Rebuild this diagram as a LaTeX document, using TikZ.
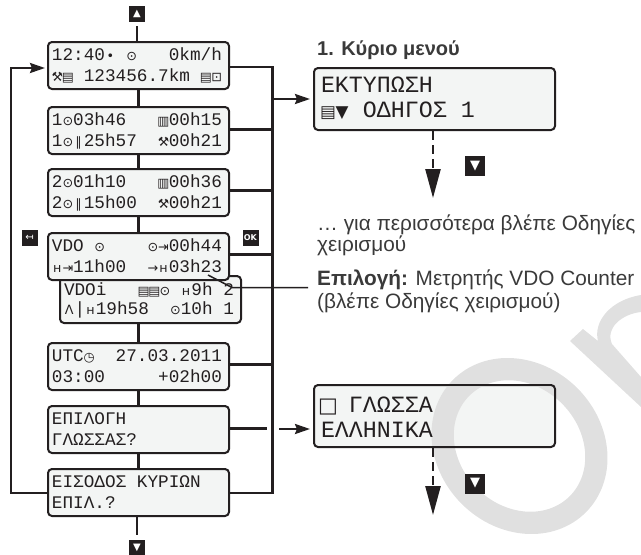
\documentclass[tikz,border=0pt]{standalone}
\usepackage{fontspec}
\usepackage{xcolor}
\usetikzlibrary{arrows.meta,calc}
\setmainfont{Liberation Sans}
\newfontfamily\lcdfont{Liberation Mono}
\newfontfamily\lcdsymfont[Scale=0.72]{DejaVu Sans}
\newfontfamily\btnfont{DejaVu Sans}
\definecolor{lcdink}{HTML}{231F20}
\definecolor{lcdback}{HTML}{F3F5F4}
\definecolor{bodyink}{HTML}{3A3A3A}
\definecolor{markgray}{HTML}{E0E0E0}

\renewcommand{~}{\hspace*{0.6em}}
\newcommand{\lcdsym}[1]{\makebox[0.6em]{\lcdsymfont #1}}
\newcommand{\wheel}{\lcdsym{⊙}}
\newcommand{\cardsym}{\lcdsym{▤}}
\newcommand{\bedsym}{\lcdsym{н}}
\newcommand{\workdsym}{\lcdsym{⚒}}
\newcommand{\standby}{\lcdsym{▥}}
\newcommand{\splitbar}{\lcdsym{∥}}
\newcommand{\breaksym}{\lcdsym{⇥}}

\begin{document}
\begin{tikzpicture}[x=1pt,y=-1pt]
    \tikzstyle{lcd} = [
      rectangle,
      draw=lcdink,
      fill=lcdback,
      line width=2pt,
      rounded corners=4pt,
      anchor=north,
      align=left,
      text=lcdink,
      text width=173pt,
      text height=16pt,
      text depth=27pt,
      minimum height=47pt,
      inner xsep=4pt,
      inner ysep=2pt,
      font=\lcdfont\fontsize{17.7}{21}\selectfont,
    ]
    \tikzstyle{lcdbig} = [
      lcd,
      text width=227pt,
      text height=22pt,
      text depth=36pt,
      minimum height=62pt,
      inner xsep=7pt,
      font=\lcdfont\fontsize{23.3}{25.5}\selectfont,
    ]
    \tikzstyle{btn} = [
      rectangle,
      fill=lcdink,
      text=white,
      inner sep=0pt,
      minimum size=16pt,
      font=\btnfont\fontsize{10}{10}\selectfont,
    ]
    \tikzstyle{wire} = [
      line width=2.4pt,
      draw=lcdink,
    ]
    \tikzstyle{arrow} = [
      wire,
      -{Stealth[length=15pt,width=10pt,inset=2pt]},
    ]
    \tikzstyle{dasharrow} = [
      wire,
      dash pattern=on 9pt off 5pt,
      -{Stealth[length=29pt,width=15pt,inset=0pt]},
    ]
    \tikzstyle{caption} = [
      anchor=base west,
      inner sep=0pt,
      align=left,
      text=bodyink,
      font=\fontsize{20.8}{21}\selectfont,
    ]

    \newcommand{\padding}[0]{16pt}

    \useasboundingbox (0,0) rectangle (641,555);
    \coordinate (origo) at (138.5,41);

    % left column
    \node[lcd] (scrA) at (origo) {12:40\lcdsym{•}~\wheel~~~0km/h\\\workdsym\cardsym~123456.7km~\cardsym\lcdsym{⊡}};
    \node[lcd] (scrB) at ([yshift=-\padding] scrA.south) {1\wheel03h46~~~\standby00h15\\1\wheel\splitbar25h57~~\workdsym00h21};
    \node[lcd] (scrC) at ([yshift=-13pt] scrB.south) {2\wheel01h10~~~\standby00h36\\2\wheel\splitbar15h00~~\workdsym00h21};
    \node[lcd,text height=17pt,text depth=26pt,font=\lcdfont\fontsize{17.7}{19.5}\selectfont] (scrE) at ([xshift=12pt,yshift=-58pt] scrC.south) {VDOi~~~\cardsym\cardsym\wheel~\bedsym9h~2\\\lcdsym{Λ}|\bedsym19h58~~\wheel10h~1};
    \node[lcd] (scrD) at ([yshift=-15pt] scrC.south) {VDO~\wheel~~~~\wheel\breaksym00h44\\\bedsym\breaksym11h00~~\lcdsym{→}\bedsym03h23};
    \node[lcd] (scrF) at ([xshift=-12pt,yshift=-18pt] scrE.south) {UTC\lcdsym{◷}~~27.03.2011\\03:00~~~~~+02h00};
    \node[lcd] (scrG) at ([yshift=-14pt] scrF.south) {ΕΠΙΛΟΓΗ\\ΓΛΩΣΣΑΣ?};
    \node[lcd] (scrH) at ([yshift=-14pt] scrG.south) {ΕΙΣΟΔΟΣ~ΚΥΡΙΩΝ\\ΕΠΙΛ.?};

    \node[btn] (btnUp) at (137,14) {▲};
    \node[btn] (btnDown) at (137,548) {▼};
    \node[btn] (btnBack) at (29.5,237.5) {↤};
    \node[btn] (btnOk) at (250.5,237.5) {\fontsize{8}{8}\selectfont\textbf{OK}};

    % right column
    \node[lcdbig] (scrPrint) at (434.5,67) {ΕΚΤΥΠΩΣΗ\\\cardsym\lcdsym{▼}~ΟΔΗΓΟΣ~1};
    \node[lcdbig,text height=25pt,text depth=33pt] (scrLang) at (434.5,384) {\lcdsym{\scalebox{1.25}{□}}~ΓΛΩΣΣΑ\\ΕΛΛΗΝΙΚΑ};
    \node[btn,minimum size=20pt] (btnDownA) at (475,166) {\fontsize{13}{13}\selectfont ▼};
    \node[btn,minimum size=20pt] (btnDownB) at (475,483.5) {\fontsize{13}{13}\selectfont ▼};

    \node[caption,font=\fontsize{20}{21}\selectfont\bfseries] (title) at (317,55) {1. Κύριο μενού};
    \node[caption] (more) at (317,251) {… για περισσότερα βλέπε Οδηγίες\\χειρισμού};
    \node[caption,font=\fontsize{20.8}{23}\selectfont] (option) at (317,308) {\textbf{Επιλογή:} Μετρητής VDO Counter\\(βλέπε Οδηγίες χειρισμού)};

    \coordinate (busTop) at (272.5,67);
    \coordinate (busBot) at (272.5,493);
    \coordinate (loopLeft) at (11,493);
    \coordinate (leadBend) at (232,287.5);
    \coordinate (leadEnd) at (208,275);
    \coordinate (dashA) at ([xshift=-1.5pt,yshift=-67pt] scrPrint.south);
    \coordinate (dashB) at ([xshift=-1.5pt,yshift=-67pt] scrLang.south);

    \draw[wire] (btnUp.south) ++(0,4) -- (btnUp |- scrA.north);
    \draw[wire] (scrA) -- (scrB);
    \draw[wire] (scrB) -- (scrC);
    \draw[wire] (scrC.south) -- (scrC.south |- scrD.north);
    \draw[wire] (scrF.north) -- (scrF.north |- scrE.south);
    \draw[wire] (scrF) -- (scrG);
    \draw[wire] (scrG) -- (scrH);
    \draw[wire] (btnDown.north) ++(0,-5) -- (btnDown |- scrH.south);

    \draw[wire] (scrA.east |- busTop) -- (busTop) -- (busBot) -- (scrH.east |- busBot);
    \draw[wire] (scrB.east) ++(0,-1) -- ++(43,0);
    \draw[wire] (scrC.east) ++(0,-2) -- ++(44,0);
    \draw[wire] (scrD.east) ++(0,-2) -- ++(44,0);
    \draw[wire] (scrF.east) ++(0,-2) -- ++(44,0);
    \draw[wire] (scrG.east) ++(0,-1) -- ++(37,0);
    \draw[arrow] (busTop |- scrPrint.west) -- ([xshift=-3pt] scrPrint.west);
    \draw[arrow] (279,429) -- ([xshift=-3pt] scrLang.west |- 0,429);
    \draw[arrow] (scrH.west |- loopLeft) -- (loopLeft) -- (loopLeft |- 0,68) -- ([xshift=-2pt] scrA.west |- 0,68);

    \draw[line width=1.5pt,draw=lcdink] (leadEnd) -- (leadBend) -- ([xshift=-9pt] option.west |- leadBend);
    \draw[dasharrow] (scrPrint.south -| dashA) -- (dashA);
    \draw[dasharrow] (scrLang.south -| dashB) -- (dashB);

    % mark behind the text
    \fill[markgray,blend mode=darken,even odd rule] (519.5,446) ellipse [x radius=93.8,y radius=81.8,rotate=-45]
      (519.5,446) ellipse [x radius=71,y radius=60,rotate=-45];
    \fill[markgray,blend mode=darken] (570,341) -- (583,329) -- (598,341) .. controls (593,322) and (610,300) .. (641,295)
      -- (641,312) .. controls (622,314) and (605,328) .. (612,344) -- (641,377) -- (641,407) -- cycle;
\end{tikzpicture}
\end{document}
